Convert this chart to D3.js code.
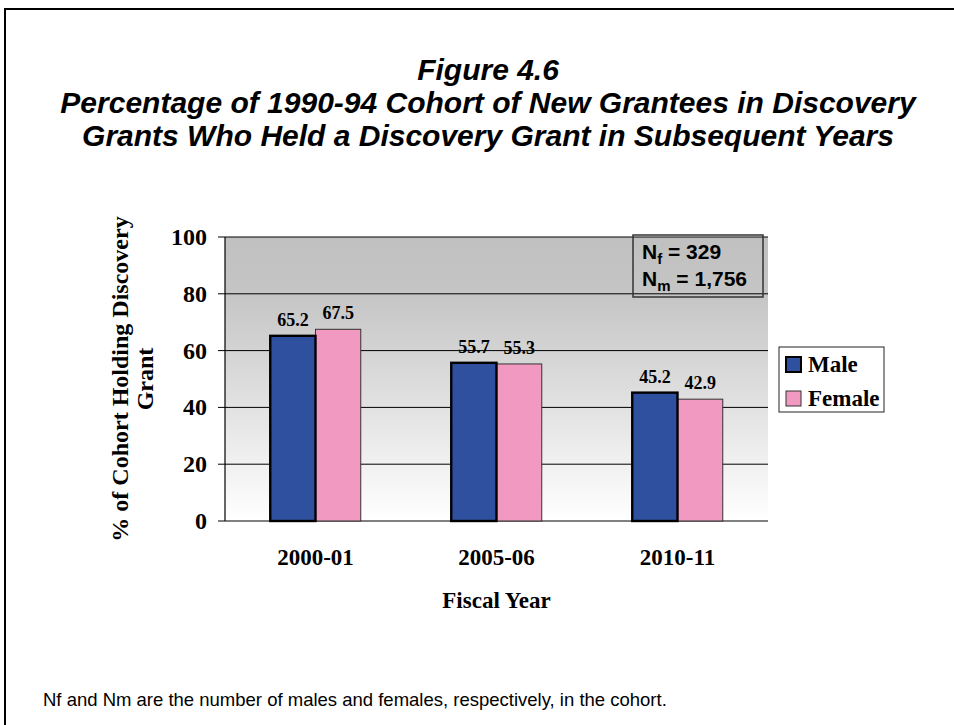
<!DOCTYPE html>
<html>
<head>
<meta charset="utf-8">
<script src="https://cdn.jsdelivr.net/npm/d3@7"></script>
<style>
  body { margin: 0; background: #fff; }
  svg { display: block; }
</style>
</head>
<body>
<svg id="chart" width="954" height="725"></svg>
<script>
// data
var categories = ["2000-01", "2005-06", "2010-11"];
var seriesNames = ["Male", "Female"];
var maleValues = [65.2, 55.7, 45.2];
var femaleValues = [67.5, 55.3, 42.9];
var yTicks = [0, 20, 40, 60, 80, 100];
var titleLines = [
  "Figure 4.6",
  "Percentage of 1990-94 Cohort of New Grantees in Discovery",
  "Grants Who Held a Discovery Grant in Subsequent Years"
];

var colors = { Male: "#2f4f9f", Female: "#f299c1" };
var serif = "'Liberation Serif', 'Times New Roman', serif";
var sans = "'Liberation Sans', Arial, sans-serif";

var svg = d3.select("#chart");

// outer frame (only left and top edges show)
svg.append("path")
    .attr("d", "M5,730 L5,9 L960,9")
    .attr("fill", "none")
    .attr("stroke", "#000")
    .attr("stroke-width", 2);

// title
svg.append("g").selectAll("text")
    .data(titleLines)
    .enter()
    .append("text")
    .attr("x", 488)
    .attr("y", function (d, i) { return 80 + i * 33; })
    .attr("text-anchor", "middle")
    .style("font-family", sans)
    .style("font-weight", "bold")
    .style("font-style", "italic")
    .style("font-size", "30px")
    .text(function (d) { return d; });

// plot area
var plotLeft = 225, plotRight = 768, plotTop = 237, plotBottom = 521;

var x0 = d3.scaleBand()
    .domain(categories)
    .range([plotLeft, plotRight])
    .paddingInner(0.5)
    .paddingOuter(0.25);

var x1 = d3.scaleBand()
    .domain(seriesNames)
    .range([0, x0.bandwidth()]);

var y = d3.scaleLinear()
    .domain([0, 100])
    .range([plotBottom, plotTop]);

var defs = svg.append("defs");
var grad = defs.append("linearGradient")
    .attr("id", "bg")
    .attr("x1", 0).attr("y1", 0)
    .attr("x2", 0).attr("y2", 1);
grad.append("stop").attr("offset", "0%").attr("stop-color", "#c0c0c0");
grad.append("stop").attr("offset", "20%").attr("stop-color", "#c5c5c5");
grad.append("stop").attr("offset", "100%").attr("stop-color", "#ffffff");

svg.append("rect")
    .attr("x", plotLeft)
    .attr("y", plotTop)
    .attr("width", plotRight - plotLeft)
    .attr("height", plotBottom - plotTop)
    .attr("fill", "url(#bg)");

// gridlines
svg.append("g").selectAll("line")
    .data(yTicks)
    .enter()
    .append("line")
    .attr("x1", plotLeft - 7)
    .attr("x2", plotRight)
    .attr("y1", function (d) { return y(d); })
    .attr("y2", function (d) { return y(d); })
    .attr("stroke", "#000")
    .attr("stroke-width", 1);

// y axis line
svg.append("line")
    .attr("x1", plotLeft).attr("x2", plotLeft)
    .attr("y1", plotTop).attr("y2", plotBottom)
    .attr("stroke", "#000")
    .attr("stroke-width", 1.2);

// y tick labels
svg.append("g").selectAll("text")
    .data(yTicks)
    .enter()
    .append("text")
    .attr("x", 207)
    .attr("y", function (d) { return y(d) + 8; })
    .attr("text-anchor", "end")
    .style("font-family", serif)
    .style("font-weight", "bold")
    .style("font-size", "24px")
    .text(function (d) { return d; });

// N box
var nBox = svg.append("g");
nBox.append("rect")
    .attr("x", 633).attr("y", 235)
    .attr("width", 130).attr("height", 62)
    .attr("fill", "none")
    .attr("stroke", "#333")
    .attr("stroke-width", 1.5);
var nf = nBox.append("text")
    .attr("x", 642).attr("y", 259)
    .style("font-family", sans)
    .style("font-weight", "bold")
    .style("font-size", "21px");
nf.append("tspan").text("N");
nf.append("tspan").attr("dy", 5).style("font-size", "15px").text("f");
nf.append("tspan").attr("dy", -5).text(" = 329");
var nm = nBox.append("text")
    .attr("x", 642).attr("y", 286)
    .style("font-family", sans)
    .style("font-weight", "bold")
    .style("font-size", "21px");
nm.append("tspan").text("N");
nm.append("tspan").attr("dy", 5).style("font-size", "15px").text("m");
nm.append("tspan").attr("dy", -5).text(" = 1,756");

// bars
var rows = categories.map(function (c, i) {
  return { cat: c, values: [
    { name: "Male", value: maleValues[i] },
    { name: "Female", value: femaleValues[i] }
  ] };
});

var groups = svg.append("g").selectAll("g")
    .data(rows)
    .enter()
    .append("g")
    .attr("transform", function (d) { return "translate(" + x0(d.cat) + ",0)"; });

// female first so the heavier male outline sits on top
groups.selectAll("rect")
    .data(function (d) { return d.values.slice().reverse(); })
    .enter()
    .append("rect")
    .attr("x", function (d) { return x1(d.name); })
    .attr("y", function (d) { return y(d.value); })
    .attr("width", x1.bandwidth())
    .attr("height", function (d) { return plotBottom - y(d.value); })
    .attr("fill", function (d) { return colors[d.name]; })
    .attr("stroke", function (d) { return d.name === "Male" ? "#000" : "#333"; })
    .attr("stroke-width", function (d) { return d.name === "Male" ? 2.4 : 1; });

// value labels
groups.selectAll("text")
    .data(function (d) { return d.values; })
    .enter()
    .append("text")
    .attr("x", function (d) { return x1(d.name) + x1.bandwidth() / 2; })
    .attr("y", function (d) { return y(d.value) - 10; })
    .attr("text-anchor", "middle")
    .style("font-family", serif)
    .style("font-weight", "bold")
    .style("font-size", "18px")
    .text(function (d) { return d.value.toFixed(1); });

// x category labels
svg.append("g").selectAll("text")
    .data(categories)
    .enter()
    .append("text")
    .attr("x", function (d) { return x0(d) + x0.bandwidth() / 2; })
    .attr("y", 565)
    .attr("text-anchor", "middle")
    .style("font-family", serif)
    .style("font-weight", "bold")
    .style("font-size", "23px")
    .text(function (d) { return d; });

// axis titles
svg.append("text")
    .attr("x", (plotLeft + plotRight) / 2)
    .attr("y", 608)
    .attr("text-anchor", "middle")
    .style("font-family", serif)
    .style("font-weight", "bold")
    .style("font-size", "23px")
    .text("Fiscal Year");

var yTitle = svg.append("text")
    .attr("transform", "translate(0," + ((plotTop + plotBottom) / 2) + ") rotate(-90)")
    .attr("text-anchor", "middle")
    .style("font-family", serif)
    .style("font-weight", "bold")
    .style("font-size", "24px");
yTitle.append("tspan").attr("x", 0).attr("y", 128).text("% of Cohort Holding Discovery");
yTitle.append("tspan").attr("x", 0).attr("y", 153).text("Grant");

// legend
var legend = svg.append("g");
legend.append("rect")
    .attr("x", 779).attr("y", 347)
    .attr("width", 105).attr("height", 65)
    .attr("fill", "#fff")
    .attr("stroke", "#222")
    .attr("stroke-width", 1);
var items = legend.selectAll("g")
    .data(seriesNames)
    .enter()
    .append("g")
    .attr("transform", function (d, i) { return "translate(786," + (357 + i * 34) + ")"; });
items.append("rect")
    .attr("width", 15).attr("height", 15)
    .attr("fill", function (d) { return colors[d]; })
    .attr("stroke", function (d) { return d === "Male" ? "#000" : "#333"; })
    .attr("stroke-width", function (d) { return d === "Male" ? 2 : 1; });
items.append("text")
    .attr("x", 22)
    .attr("y", 15)
    .style("font-family", serif)
    .style("font-weight", "bold")
    .style("font-size", "23px")
    .text(function (d) { return d; });

// footnote
svg.append("text")
    .attr("x", 43)
    .attr("y", 706)
    .style("font-family", sans)
    .style("font-size", "18.5px")
    .text("Nf and Nm are the number of males and females, respectively, in the cohort.");
</script>
</body>
</html>
